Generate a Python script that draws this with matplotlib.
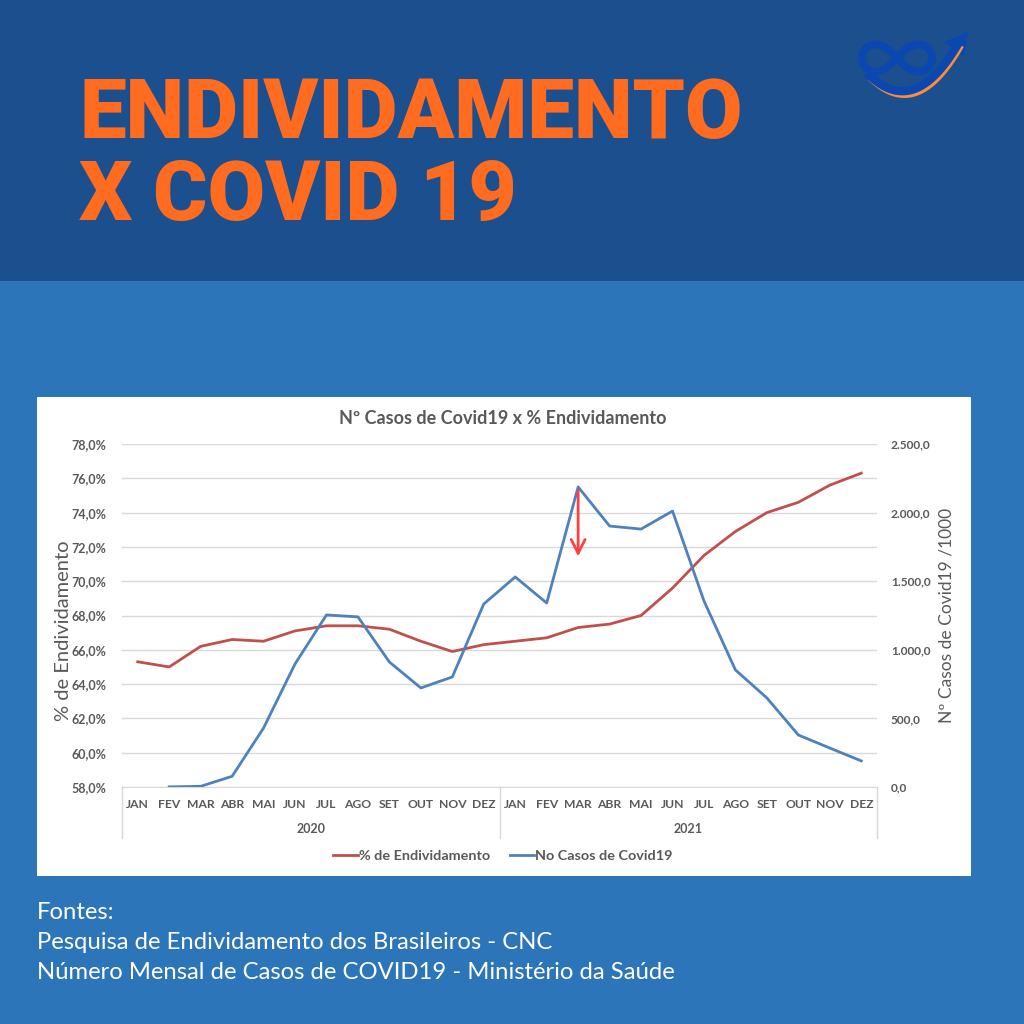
import numpy as np
import matplotlib
matplotlib.use("Agg")
import matplotlib.pyplot as plt
from matplotlib.patches import Rectangle, Polygon
from matplotlib.lines import Line2D

# ---------------- data ----------------
months = ["JAN", "FEV", "MAR", "ABR", "MAI", "JUN", "JUL", "AGO", "SET", "OUT", "NOV", "DEZ"]
years = ["2020", "2021"]
endividamento = [65.3, 65.0, 66.2, 66.6, 66.5, 67.1, 67.4, 67.4, 67.2, 66.5, 65.9, 66.3,
                 66.5, 66.7, 67.3, 67.5, 68.0, 69.6, 71.5, 72.9, 74.0, 74.6, 75.6, 76.3]
casos = [np.nan, 1, 5, 78, 430, 897, 1254, 1240, 911, 722, 802, 1334,
         1531, 1341, 2187, 1902, 1880, 2011, 1356, 853, 649, 379, 284, 190]
left_ticks = [58, 60, 62, 64, 66, 68, 70, 72, 74, 76, 78]
left_labels = ["58,0%", "60,0%", "62,0%", "64,0%", "66,0%", "68,0%", "70,0%", "72,0%", "74,0%", "76,0%", "78,0%"]
right_ticks = [0, 500, 1000, 1500, 2000, 2500]
right_labels = ["0,0", "500,0", "1.000,0", "1.500,0", "2.000,0", "2.500,0"]
arrow_from = 2180
arrow_to = 1660

FONT = ["Lato", "DejaVu Sans"]
GRAY = "#595959"
RED = "#c0504d"
BLUE = "#4f81bd"

fig = plt.figure(figsize=(10.24, 10.24), dpi=100)
fig.patch.set_facecolor("#2c75b8")

W = 1024.0
def fx(px): return np.asarray(px, dtype=float) / W
def fy(py): return 1 - np.asarray(py, dtype=float) / W

# background bands
fig.add_artist(Rectangle((0, fy(281)), 1, 281 / W, transform=fig.transFigure,
                         facecolor="#1c4f8d", edgecolor="none", zorder=0))
fig.add_artist(Rectangle((fx(37), fy(876)), fx(971 - 37), (876 - 397) / W,
                         transform=fig.transFigure, facecolor="white", edgecolor="none", zorder=0))

# big title
title_font = ["Roboto", "DejaVu Sans"]
fig.text(fx(79), fy(138), "ENDIVIDAMENTO", color="#ff6b1f", fontsize=60, fontweight="black",
         family=title_font, va="baseline", ha="left")
fig.text(fx(79), fy(220), "X COVID 19", color="#ff6b1f", fontsize=60, fontweight="black",
         family=title_font, va="baseline", ha="left")

# logo (decoration)
LOGO_BLUE = "#0a47b0"
t = np.linspace(0, 2 * np.pi, 300)
cx, cy, a = 897, 58, 35
lx = cx + a * np.cos(t) / (1 + np.sin(t) ** 2)
ly = cy + a * 1.1 * np.sin(t) * np.cos(t) / (1 + np.sin(t) ** 2)
fig.add_artist(Line2D(fx(lx), fy(ly), transform=fig.transFigure, color=LOGO_BLUE, lw=5.5,
                      solid_capstyle="round"))
s = np.linspace(0, 1, 100)
p0, p1, p2 = np.array([870, 76]), np.array([915, 118]), np.array([958, 44])
bez = ((1 - s) ** 2)[:, None] * p0 + (2 * (1 - s) * s)[:, None] * p1 + (s ** 2)[:, None] * p2
fig.add_artist(Line2D(fx(bez[:, 0] + 2), fy(bez[:, 1] + 4), transform=fig.transFigure,
                      color="#ff8c3a", lw=4))
fig.add_artist(Line2D(fx(bez[:, 0]), fy(bez[:, 1]), transform=fig.transFigure,
                      color=LOGO_BLUE, lw=6))
head = np.array([[968, 32], [944, 42], [964, 56]])
fig.add_artist(Polygon(np.column_stack([fx(head[:, 0]), fy(head[:, 1])]), closed=True,
                       transform=fig.transFigure, facecolor=LOGO_BLUE, edgecolor="none"))

# footer
for i, line in enumerate(["Fontes:", "Pesquisa de Endividamento dos Brasileiros - CNC",
                          "Número Mensal de Casos de COVID19 - Ministério da Saúde"]):
    fig.text(fx(37), fy(919 + 30 * i), line, color="white", fontsize=17.2,
             family=["Lato", "DejaVu Sans"], va="baseline", ha="left")

# ---------------- chart ----------------
ax = fig.add_axes([fx(122), fy(787), fx(877 - 122), (787 - 444) / W])
ax.set_facecolor("none")
x = np.arange(len(endividamento))
ax.set_xlim(-0.5, len(x) - 0.5)
ax.set_ylim(58, 78)
ax.set_yticks(left_ticks)
ax.set_yticklabels(left_labels)
ax.grid(axis="y", color="#d9d9d9", lw=1)
ax.set_axisbelow(True)
for sp in ["top", "left", "right"]:
    ax.spines[sp].set_visible(False)
ax.spines["bottom"].set_color("#d9d9d9")
ax.tick_params(axis="y", length=0, pad=11, labelsize=9, labelcolor=GRAY)
ax.set_xticks(x)
ax.set_xticklabels(months * 2)
ax.tick_params(axis="x", length=0, pad=9, labelsize=8.7, labelcolor=GRAY)
for lab in ax.get_yticklabels() + ax.get_xticklabels():
    lab.set_fontweight("bold")
    lab.set_family(FONT)
ax.set_ylabel("% de Endividamento", fontsize=14.5, color=GRAY, family=FONT, labelpad=0)
ax.yaxis.set_label_coords(-0.066, 0.455)

ax.plot(x, endividamento, color=RED, lw=2, label="% de Endividamento", zorder=3)

ax2 = ax.twinx()
ax2.set_ylim(0, 2500)
ax2.set_yticks(right_ticks)
ax2.set_yticklabels(right_labels)
for sp in ax2.spines.values():
    sp.set_visible(False)
ax2.tick_params(axis="y", length=0, pad=10, labelsize=8.6, labelcolor=GRAY)
for lab in ax2.get_yticklabels():
    lab.set_fontweight("bold")
    lab.set_family(FONT)
ax2.set_ylabel("Nº Casos de Covid19 /1000", fontsize=12.5, color=GRAY, family=FONT, labelpad=6)
ax2.plot(x, casos, color=BLUE, lw=2, label="No Casos de Covid19", zorder=3)

# hand-drawn arrow at MAR 2021
ax2.annotate("", xy=(14, arrow_to), xytext=(14, arrow_from),
             arrowprops=dict(arrowstyle="->,head_length=1.0,head_width=0.5", color="#ff4040", lw=2))

# category grouping separators and year labels
tr = ax.get_xaxis_transform()
for xv in [-0.5, 11.5, 23.5]:
    ax.plot([xv, xv], [0, -0.15], transform=tr, color="#d9d9d9", lw=1, clip_on=False)
for i, yr in enumerate(years):
    ax.text(5.5 + 12 * i, -0.123, yr, transform=tr, ha="center", va="center",
            fontsize=9, fontweight="bold", color=GRAY, family=FONT)

# chart title
fig.text(fx(503), fy(418), "Nº Casos de Covid19 x % Endividamento", ha="center", va="center",
         fontsize=13, fontweight="bold", color=GRAY, family=FONT)

# legend
h1, l1 = ax.get_legend_handles_labels()
h2, l2 = ax2.get_legend_handles_labels()
leg = fig.legend(h1 + h2, l1 + l2, loc="center", bbox_to_anchor=(fx(503), fy(856)), ncol=2,
                 frameon=False, handlelength=1.7, handletextpad=0.05, columnspacing=1.4,
                 prop={"family": FONT, "weight": "bold", "size": 10.4})
for txt in leg.get_texts():
    txt.set_color(GRAY)

fig.savefig("out.png", dpi=100, facecolor=fig.get_facecolor())
